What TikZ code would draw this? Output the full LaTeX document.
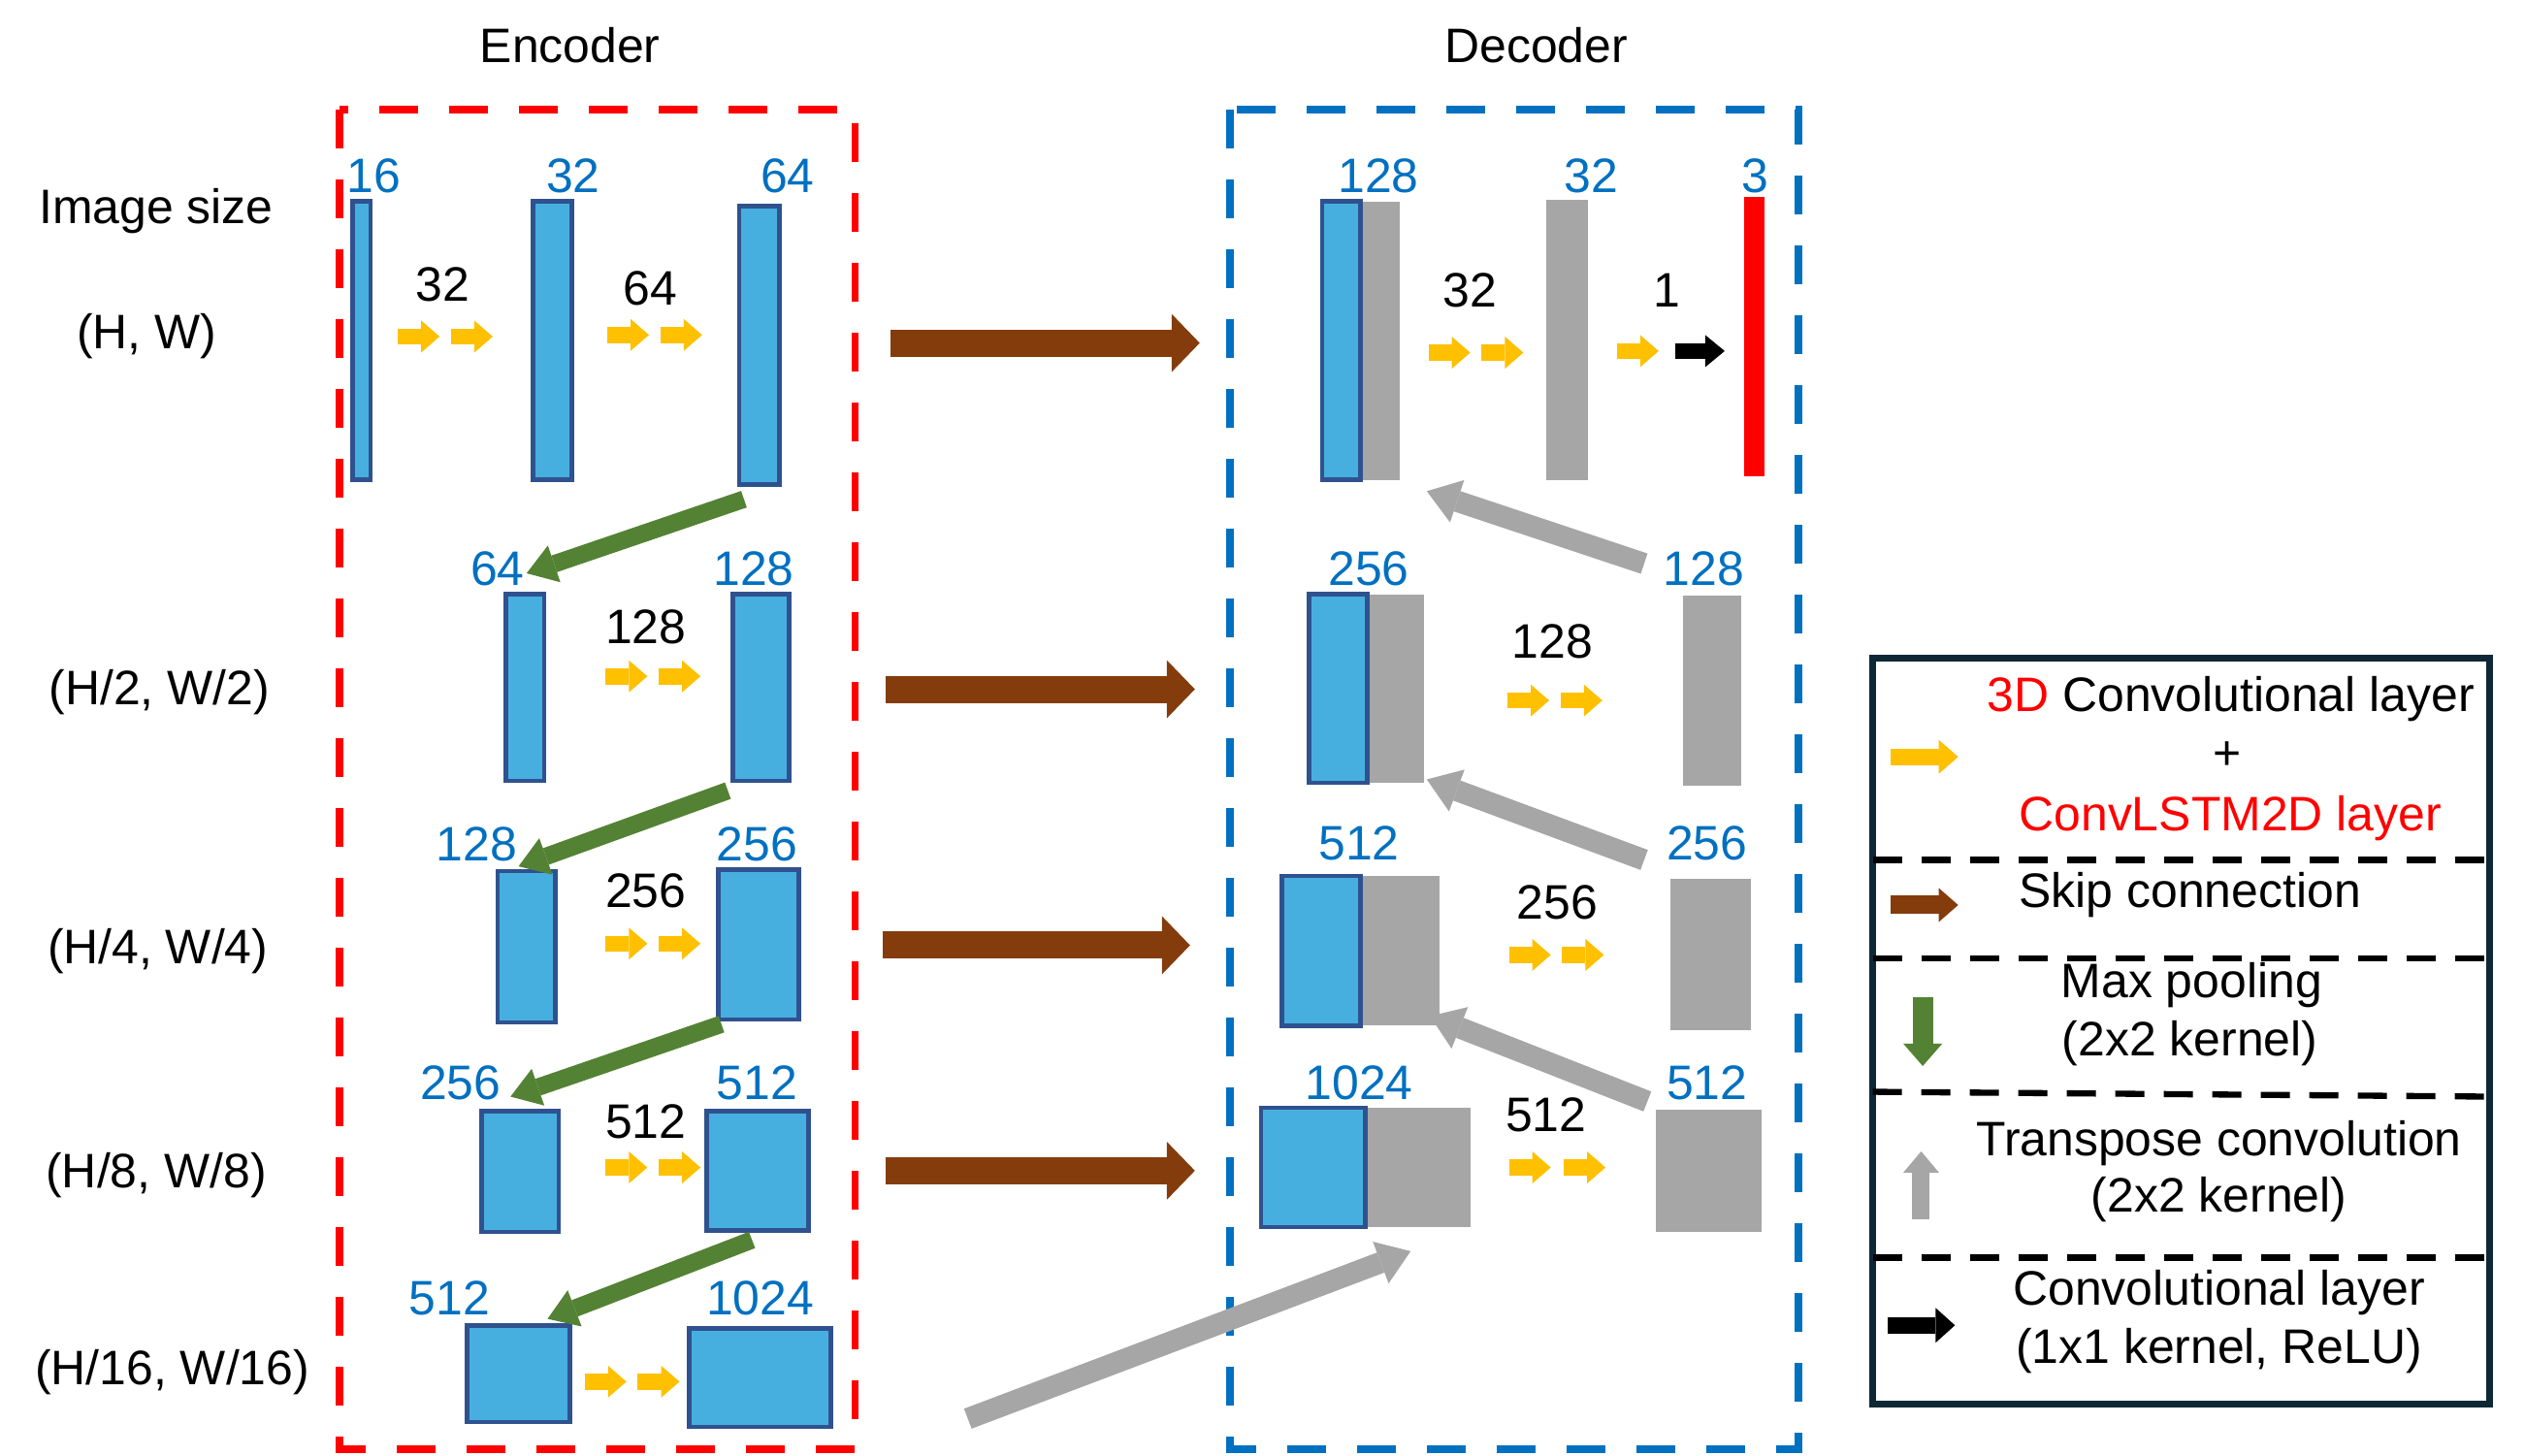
\documentclass[tikz,border=0pt]{standalone}
\usepackage{fontspec}
\setmainfont{Liberation Sans}
\usetikzlibrary{arrows.meta}

\definecolor{blkfill}{HTML}{47AFE0}
\definecolor{blkedge}{HTML}{2F528F}
\definecolor{chanblue}{HTML}{0070C0}
\definecolor{convyellow}{HTML}{FFC000}
\definecolor{skipbrown}{HTML}{843C0C}
\definecolor{poolgreen}{HTML}{548235}
\definecolor{upgray}{HTML}{A6A6A6}
\definecolor{legedge}{HTML}{0E2836}

\newcommand{\layerbox}[6]{\node[#1,minimum width={(#5-#3)*0.0166cm},minimum height={(#6-#4)*0.0166cm}] (#2) at ({(#3+#5)/2},{(#4+#6)/2}) {};}

\begin{document}
\begin{tikzpicture}[x=0.0166cm,y=-0.0166cm,font=\fontsize{14.2}{17}\selectfont,
  txt/.style={inner sep=0pt,text height=0.92em,text depth=0pt},
  chan/.style={txt,text=chanblue},
  enc/.style={draw=blkedge,fill=blkfill,line width=1.3pt,inner sep=0pt},
  dec/.style={fill=upgray,inner sep=0pt},
  outbar/.style={fill=red,inner sep=0pt},
  conv/.style={draw=convyellow,line width=0.166cm,-{Triangle[length=0.19cm,width=0.33cm,line width=0pt]}},
  onebyone/.style={draw=black,line width=0.16cm,-{Triangle[length=0.2cm,width=0.33cm,line width=0pt]}},
  skip/.style={draw=skipbrown,line width=0.28cm,-{Triangle[length=0.29cm,width=0.6cm,line width=0pt]}},
  pool/.style={draw=poolgreen,line width=0.18cm,-{Triangle[length=0.3cm,width=0.4cm,line width=0pt]}},
  upconv/.style={draw=upgray,line width=0.22cm,-{Triangle[length=0.33cm,width=0.46cm,line width=0pt]}},
  stage/.style={line width=2.2pt,dash pattern=on 0.4cm off 0.32cm},
  legsep/.style={line width=1.8pt,dash pattern=on 0.3cm off 0.2cm}]

  \useasboundingbox (0,0) rectangle (1568,904);

  \node[txt] (enctitle) at (354,29) {Encoder};
  \node[txt] (dectitle) at (954,29) {Decoder};

  \draw[stage,red] (211,68) rectangle (531,900);
  \draw[stage,chanblue] (764,68) rectangle (1117,900);

  \node[txt] (size0) at (97,129) {Image size};
  \node[txt] (size1) at (91,207) {(H, W)};
  \node[txt] (size2) at (99,428) {(H/2, W/2)};
  \node[txt] (size3) at (98,589) {(H/4, W/4)};
  \node[txt] (size4) at (97,728) {(H/8, W/8)};
  \node[txt] (size5) at (107,850) {(H/16, W/16)};

  \layerbox{enc}{e11}{219}{125}{230}{298}
  \layerbox{enc}{e12}{331}{125}{355}{298}
  \layerbox{enc}{e13}{459}{128}{484}{301}
  \layerbox{enc}{e21}{314}{369}{338}{485}
  \layerbox{enc}{e22}{455}{369}{490}{485}
  \layerbox{enc}{e31}{309}{541}{345}{635}
  \layerbox{enc}{e32}{446}{540}{496}{633}
  \layerbox{enc}{e41}{299}{690}{347}{765}
  \layerbox{enc}{e42}{439}{690}{502}{764}
  \layerbox{enc}{e51}{290}{823}{354}{883}
  \layerbox{enc}{e52}{428}{825}{516}{886}

  \layerbox{dec}{d11g}{845}{125}{869}{298}
  \layerbox{enc}{d11}{821}{125}{845}{298}
  \layerbox{dec}{d12}{960}{124}{986}{298}
  \layerbox{outbar}{d13}{1083}{122}{1096}{296}
  \layerbox{dec}{d21g}{849}{369}{884}{486}
  \layerbox{enc}{d21}{813}{369}{849}{486}
  \layerbox{dec}{d22}{1045}{370}{1081}{488}
  \layerbox{dec}{d31g}{845}{544}{894}{637}
  \layerbox{enc}{d31}{796}{544}{845}{637}
  \layerbox{dec}{d32}{1037}{546}{1087}{640}
  \layerbox{dec}{d41g}{848}{688}{913}{762}
  \layerbox{enc}{d41}{783}{688}{848}{762}
  \layerbox{dec}{d42}{1028}{689}{1094}{765}

  \foreach \n/\x/\y/\t in {c1/232/110/16,c2/356/110/32,c3/489/110/64,
      c4/309/354/64,c5/468/354/128,c6/296/525/128,c7/470/525/256,
      c8/286/673/256,c9/470/673/512,c10/279/807/512,c11/472/807/1024,
      c12/856/110/128,c13/988/110/32,c14/1090/110/3,c15/850/354/256,
      c16/1058/354/128,c17/844/524/512,c18/1060/524/256,c19/844/673/1024,
      c20/1060/673/512}
    \node[chan] (\n) at (\x,\y) {\t};

  \foreach \n/\x/\y/\t in {k1/275/177/32,k2/404/180/64,k3/401/390/128,
      k4/401/554/256,k5/401/697/512,k6/913/181/32,k7/1035/181/1,
      k8/964/399/128,k9/967/561/256,k10/960/693/512}
    \node[txt] (\n) at (\x,\y) {\t};

  \foreach \x/\y in {247/209,280/209,377/208,410/208,376/420,409/420,
      376/586,409/586,376/725,409/725,363/858,396/858,887/219,920/219,
      1004/218,936/435,969/435,937/593,970/593,937/725,971/725}
    \draw[conv] (\x,\y) -- ++(26,0);
  \coordinate (o1) at (1040,218);
  \coordinate (o2) at (1071,218);
  \draw[onebyone] (o1) -- (o2);

  \coordinate (p1a) at (462,310); \coordinate (p1b) at (327,356);
  \coordinate (p2a) at (452,491); \coordinate (p2b) at (322,538);
  \coordinate (p3a) at (448,636); \coordinate (p3b) at (317,681);
  \coordinate (p4a) at (467,770); \coordinate (p4b) at (340,819);
  \draw[pool] (p1a) -- (p1b);
  \draw[pool] (p2a) -- (p2b);
  \draw[pool] (p3a) -- (p3b);
  \draw[pool] (p4a) -- (p4b);

  \coordinate (s1a) at (553,213); \coordinate (s1b) at (745,213);
  \coordinate (s2a) at (550,428); \coordinate (s2b) at (742,428);
  \coordinate (s3a) at (548,587); \coordinate (s3b) at (739,587);
  \coordinate (s4a) at (550,727); \coordinate (s4b) at (742,727);
  \draw[skip] (s1a) -- (s1b);
  \draw[skip] (s2a) -- (s2b);
  \draw[skip] (s3a) -- (s3b);
  \draw[skip] (s4a) -- (s4b);

  \coordinate (u1a) at (1021,350); \coordinate (u1b) at (886,305);
  \coordinate (u2a) at (1021,534); \coordinate (u2b) at (886,484);
  \coordinate (u3a) at (1023,684); \coordinate (u3b) at (888,631);
  \coordinate (u4a) at (601,881); \coordinate (u4b) at (876,777);
  \draw[upconv] (u1a) -- (u1b);
  \draw[upconv] (u2a) -- (u2b);
  \draw[upconv] (u3a) -- (u3b);
  \draw[upconv] (u4a) -- (u4b);

  \node[draw=legedge,line width=2pt,inner sep=0pt,minimum width={383*0.0166cm},
    minimum height={463*0.0166cm}] (leg) at (1354.5,640.5) {};
  \draw[legsep] (1163,534) -- (1546,534);
  \draw[legsep] (1163,595) -- (1546,595);
  \draw[legsep] (1163,678) -- (1546,681);
  \draw[legsep] (1163,781) -- (1546,781);

  \draw[draw=convyellow,line width=0.166cm,-{Triangle[length=0.2cm,width=0.35cm,line width=0pt]}]
    (1174,470) -- (1216,470);
  \draw[draw=skipbrown,line width=0.19cm,-{Triangle[length=0.2cm,width=0.35cm,line width=0pt]}]
    (1174,562) -- (1216,562);
  \draw[draw=poolgreen,line width=0.21cm,-{Triangle[length=0.23cm,width=0.4cm,line width=0pt]}]
    (1194,619) -- (1194,662);
  \draw[draw=upgray,line width=0.18cm,-{Triangle[length=0.22cm,width=0.37cm,line width=0pt]}]
    (1193,757) -- (1193,715);
  \draw[draw=black,line width=0.175cm,-{Triangle[length=0.2cm,width=0.36cm,line width=0pt]}]
    (1172,823) -- (1214,823);

  \node[txt,anchor=east] (l1) at (1537,432) {{\color{red}3D} Convolutional layer};
  \node[txt] (l2) at (1383,468) {+};
  \node[txt,text=red] (l3) at (1385,506) {ConvLSTM2D layer};
  \node[txt] (l4) at (1360,554) {Skip connection};
  \node[txt] (l5) at (1361,610) {Max pooling};
  \node[txt] (l6) at (1360,646) {(2x2 kernel)};
  \node[txt] (l7) at (1378,708) {Transpose convolution};
  \node[txt] (l8) at (1378,743) {(2x2 kernel)};
  \node[txt] (l9) at (1378,801) {Convolutional layer};
  \node[txt] (l10) at (1378,837) {(1x1 kernel, ReLU)};
\end{tikzpicture}
\end{document}
